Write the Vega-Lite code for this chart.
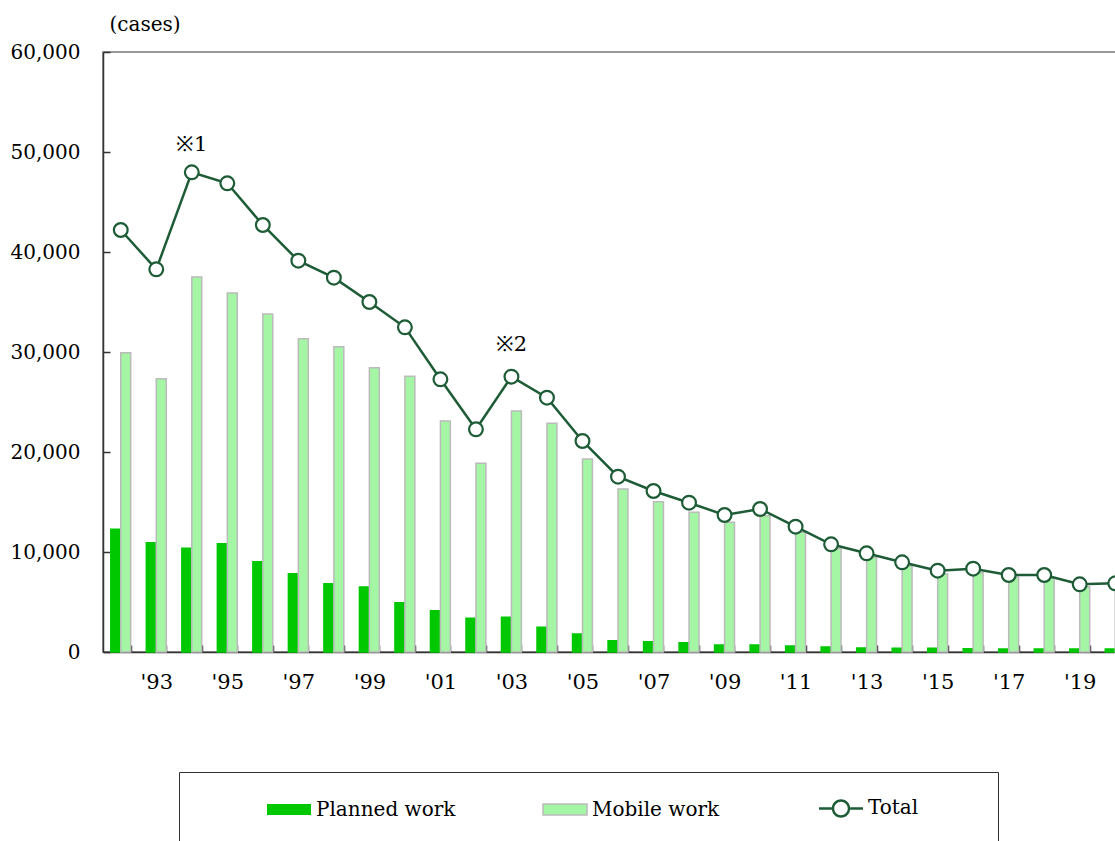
{
  "$schema": "https://vega.github.io/schema/vega-lite/v6.json",
  "autosize": "none",
  "width": 1030,
  "height": 600,
  "padding": {"left": 103, "top": 52, "right": 0, "bottom": 190},
  "background": "white",
  "config": {
    "view": {"stroke": "#777777", "strokeWidth": 1.5},
    "font": "DejaVu Serif"
  },
  "datasets": {
    "main": [
      {"year": 1992, "planned": 12270, "mobile": 29930, "total": 42200},
      {"year": 1993, "planned": 10930, "mobile": 27330, "total": 38270},
      {"year": 1994, "planned": 10370, "mobile": 37500, "total": 47970},
      {"year": 1995, "planned": 10830, "mobile": 35900, "total": 46870},
      {"year": 1996, "planned": 9030, "mobile": 33800, "total": 42700},
      {"year": 1997, "planned": 7830, "mobile": 31330, "total": 39130},
      {"year": 1998, "planned": 6830, "mobile": 30530, "total": 37430},
      {"year": 1999, "planned": 6500, "mobile": 28430, "total": 35000},
      {"year": 2000, "planned": 4930, "mobile": 27570, "total": 32470},
      {"year": 2001, "planned": 4130, "mobile": 23100, "total": 27270},
      {"year": 2002, "planned": 3370, "mobile": 18870, "total": 22270},
      {"year": 2003, "planned": 3470, "mobile": 24100, "total": 27530},
      {"year": 2004, "planned": 2470, "mobile": 22870, "total": 25430},
      {"year": 2005, "planned": 1800, "mobile": 19300, "total": 21100},
      {"year": 2006, "planned": 1130, "mobile": 16300, "total": 17530},
      {"year": 2007, "planned": 1030, "mobile": 15030, "total": 16100},
      {"year": 2008, "planned": 930, "mobile": 13970, "total": 14930},
      {"year": 2009, "planned": 700, "mobile": 12970, "total": 13700},
      {"year": 2010, "planned": 700, "mobile": 13630, "total": 14300},
      {"year": 2011, "planned": 600, "mobile": 11970, "total": 12530},
      {"year": 2012, "planned": 500, "mobile": 10330, "total": 10770},
      {"year": 2013, "planned": 400, "mobile": 9470, "total": 9870},
      {"year": 2014, "planned": 380, "mobile": 8600, "total": 8970},
      {"year": 2015, "planned": 380, "mobile": 7800, "total": 8130},
      {"year": 2016, "planned": 320, "mobile": 7930, "total": 8330},
      {"year": 2017, "planned": 300, "mobile": 7470, "total": 7700},
      {"year": 2018, "planned": 300, "mobile": 7370, "total": 7700},
      {"year": 2019, "planned": 300, "mobile": 6530, "total": 6770},
      {"year": 2020, "planned": 300, "mobile": 6370, "total": 6870}
    ],
    "notes": [
      {"year": 1994, "note": "※1", "pos": 50700},
      {"year": 2003, "note": "※2", "pos": 30700}
    ]
  },
  "encoding": {
    "x": {
      "field": "year",
      "type": "ordinal",
      "scale": {"paddingInner": 0.44, "paddingOuter": 0.22},
      "axis": {
        "title": null,
        "domainColor": "#333333",
        "domainWidth": 1.5,
        "tickColor": "#333333",
        "tickSize": -7,
        "tickWidth": 1.5,
        "tickBand": "extent",
        "labelAngle": 0,
        "labelPadding": 26,
        "labelFont": "DejaVu Serif",
        "labelFontSize": 21,
        "labelColor": "#000000",
        "labelExpr": "datum.value % 2 == 1 ? \"'\" + slice(toString(datum.value), 2) : ''"
      }
    }
  },
  "layer": [
    {
      "data": {"name": "main"},
      "transform": [
        {"fold": ["planned", "mobile"], "as": ["key", "value"]},
        {"calculate": "datum.key === 'planned' ? 'Planned work' : 'Mobile work'", "as": "series"}
      ],
      "mark": {"type": "bar", "strokeWidth": 1.5},
      "encoding": {
        "xOffset": {
          "field": "series",
          "type": "nominal",
          "scale": {"domain": ["Planned work", "Mobile work"], "paddingInner": 0, "paddingOuter": 0}
        },
        "y": {
          "field": "value",
          "type": "quantitative",
          "scale": {"domain": [0, 60000]},
          "axis": {
            "title": "(cases)",
            "titleAngle": 0,
            "titleAlign": "left",
            "titleBaseline": "middle",
            "titleX": 6,
            "titleY": -28,
            "titleFont": "DejaVu Serif",
            "titleFontSize": 20,
            "titleFontWeight": "normal",
            "titleColor": "#000000",
            "values": [0, 10000, 20000, 30000, 40000, 50000, 60000],
            "format": ",d",
            "grid": false,
            "domainColor": "#333333",
            "domainWidth": 1.5,
            "tickColor": "#333333",
            "tickSize": -7,
            "tickWidth": 1.5,
            "labelPadding": 30,
            "labelFont": "DejaVu Serif",
            "labelFontSize": 20,
            "labelColor": "#000000"
          }
        },
        "color": {
          "field": "series",
          "type": "nominal",
          "scale": {
            "domain": ["Planned work", "Mobile work", "Total"],
            "range": ["#00c800", "#a4f5a4", "#1d5c36"]
          },
          "legend": {
            "title": " ",
            "titleOrient": "right",
            "titleFontSize": 2,
            "titlePadding": 55,
            "orient": "none",
            "legendX": 76,
            "legendY": 720,
            "direction": "horizontal",
            "columns": 3,
            "gridAlign": "all",
            "columnPadding": 24,
            "padding": 25,
            "symbolOffset": 62,
            "symbolSize": 400,
            "symbolType": "M-1,-0.55H3.4V0.55H-1Z",
            "labelOffset": 28,
            "labelFont": "DejaVu Serif",
            "labelFontSize": 20,
            "labelColor": "#000000",
            "strokeColor": "#333333",
            "fillColor": "#ffffff",
            "encode": {
              "symbols": {
                "update": {
                  "shape": {"signal": "datum.value === 'Total' ? 'M-1,-0.125H0.275V0.125H-1ZM2.125,-0.125H3.4V0.125H2.125ZM2.125,0A0.925,0.925,0,1,1,0.275,0A0.925,0.925,0,1,1,2.125,0ZM1.875,0A0.675,0.675,0,1,0,0.525,0A0.675,0.675,0,1,0,1.875,0Z' : 'M-1,-0.55H3.4V0.55H-1Z'"},
                  "stroke": {"signal": "datum.value === 'Mobile work' ? '#bbbbbb' : 'transparent'"},
                  "strokeWidth": {"value": 1.5},
                  "opacity": {"value": 1}
                }
              }
            }
          }
        },
        "stroke": {
          "field": "series",
          "type": "nominal",
          "scale": {"domain": ["Planned work", "Mobile work"], "range": ["#00c800", "#bbbbbb"]},
          "legend": null
        }
      }
    },
    {
      "data": {"name": "main"},
      "mark": {"type": "line", "color": "#1d5c36", "strokeWidth": 2.5},
      "encoding": {
        "y": {"field": "total", "type": "quantitative"}
      }
    },
    {
      "data": {"name": "main"},
      "mark": {"type": "point", "shape": "circle", "filled": true, "fill": "#ffffff", "stroke": "#1d5c36", "strokeWidth": 2.2, "size": 190, "opacity": 1},
      "encoding": {
        "y": {"field": "total", "type": "quantitative"}
      }
    },
    {
      "data": {"name": "notes"},
      "mark": {"type": "text", "font": "DejaVu Serif", "fontSize": 21, "color": "#000000", "baseline": "middle", "align": "center"},
      "encoding": {
        "y": {"field": "pos", "type": "quantitative"},
        "text": {"field": "note"}
      }
    }
  ]
}
